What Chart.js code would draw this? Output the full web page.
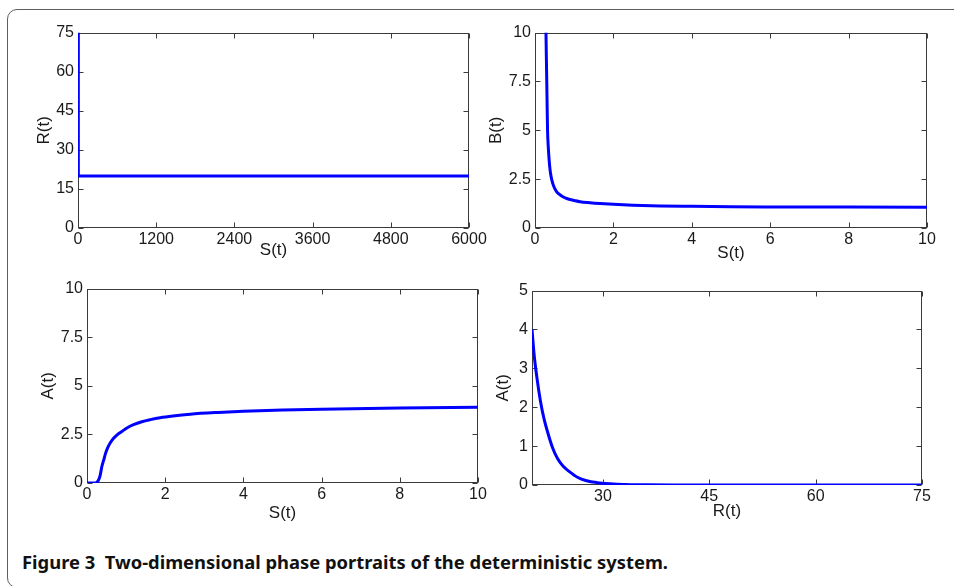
<!DOCTYPE html>
<html>
<head>
<meta charset="utf-8">
<script src="https://cdn.jsdelivr.net/npm/chart.js@4.4.1/dist/chart.umd.min.js"></script>
<style>
  html, body { margin:0; padding:0; background:#fff; width:954px; height:586px; overflow:hidden; position:relative; }
  #frame { position:absolute; left:7px; top:9px; width:1000px; height:579px; box-sizing:border-box;
           border:1.5px solid #5e5e5e; border-radius:10px; }
  .cv { position:absolute; }
  #caption { position:absolute; left:22px; top:551px; font-family:"Noto Sans", sans-serif; font-weight:700;
             font-size:17px; color:#111; white-space:pre; transform-origin:0 0; }
</style>
</head>
<body>
<div id="frame"></div>
<canvas id="c1" class="cv"></canvas>
<canvas id="c2" class="cv"></canvas>
<canvas id="c3" class="cv"></canvas>
<canvas id="c4" class="cv"></canvas>
<div id="caption">Figure 3  Two-dimensional phase portraits of the deterministic system.</div>
<script>
// ---------- data ----------
// Panel 1: R(t) against S(t)
const p1S = [5, 5, 6000];
const p1R = [75, 20, 20];
const p1XTicks = [0, 1200, 2400, 3600, 4800, 6000];
const p1YTicks = [0, 15, 30, 45, 60, 75];

// Panel 2: B(t) against S(t)
const p2S = [0.28, 0.29, 0.30, 0.31, 0.32, 0.34, 0.36, 0.38, 0.40, 0.43, 0.48, 0.55, 0.60, 0.70, 0.81, 1.00, 1.15, 1.40, 1.66, 2.00, 2.50, 3.20, 4, 5, 6, 8, 10];
const p2B = [10, 8.7, 7.5, 6.2, 5.0, 4.1, 3.5, 3.05, 2.75, 2.45, 2.12, 1.86, 1.76, 1.61, 1.51, 1.41, 1.34, 1.29, 1.25, 1.21, 1.17, 1.13, 1.11, 1.09, 1.08, 1.07, 1.06];
const p2XTicks = [0, 2, 4, 6, 8, 10];
const p2YTicks = [0, 2.5, 5, 7.5, 10];

// Panel 3: A(t) against S(t)
const p3S = [0, 0.21, 0.25, 0.30, 0.34, 0.38, 0.43, 0.47, 0.53, 0.60, 0.68, 0.77, 0.89, 1.02, 1.19, 1.40, 1.62, 1.87, 2.20, 2.64, 3.36, 4, 5, 6, 8, 10];
const p3A = [0, 0, 0.03, 0.17, 0.42, 0.85, 1.2, 1.5, 1.82, 2.08, 2.3, 2.48, 2.65, 2.83, 3.0, 3.15, 3.26, 3.36, 3.45, 3.54, 3.63, 3.69, 3.75, 3.80, 3.86, 3.90];
const p3XTicks = [0, 2, 4, 6, 8, 10];
const p3YTicks = [0, 2.5, 5, 7.5, 10];

// Panel 4: A(t) against R(t)
const p4R = [20, 20.3, 20.7, 21.2, 21.7, 22.3, 22.9, 23.6, 24.4, 25.3, 26.4, 27.7, 29.2, 31, 33, 36, 40, 75];
const p4A = [4.0, 3.35, 2.75, 2.15, 1.7, 1.3, 0.96, 0.68, 0.48, 0.34, 0.2, 0.11, 0.06, 0.03, 0.012, 0.004, 0, 0];
const p4XTicks = [30, 45, 60, 75];
const p4YTicks = [0, 1, 2, 3, 4, 5];

// ---------- layout ----------
const YW = 60, XH = 45, PT = 12, PR = 24;
const AXIS_COLOR = '#3a3a3a';
const TICK_FONT = { family: '"Liberation Sans", Arial, sans-serif', size: 16 };
const TITLE_FONT = { family: '"Liberation Sans", Arial, sans-serif', size: 17 };

const boxPlugin = {
  id: 'matlabBox',
  beforeDatasetsDraw(chart) {
    const { ctx, chartArea: a, scales } = chart;
    ctx.save();
    ctx.strokeStyle = AXIS_COLOR;
    ctx.lineWidth = 1;
    const L = Math.round(a.left) + 0.5, R = Math.round(a.right) - 0.5;
    const T = Math.round(a.top) + 0.5, B = Math.round(a.bottom) - 0.5;
    const tl = 5;
    ctx.beginPath();
    scales.x.ticks.forEach(t => {
      const px = Math.round(scales.x.getPixelForValue(t.value)) + 0.5;
      ctx.moveTo(px, B); ctx.lineTo(px, B - tl);
      ctx.moveTo(px, T); ctx.lineTo(px, T + tl);
    });
    scales.y.ticks.forEach(t => {
      const py = Math.round(scales.y.getPixelForValue(t.value)) + 0.5;
      ctx.moveTo(L, py); ctx.lineTo(L + tl, py);
      ctx.moveTo(R, py); ctx.lineTo(R - tl, py);
    });
    ctx.stroke();
    ctx.strokeRect(L, T, R - L, B - T);
    ctx.restore();
  }
};

function makePanel(id, area, xs, ys, xTicks, yTicks, xMin, xMax, yMin, yMax, xTitle, yTitle, yTitlePad, xTitlePad) {
  const cv = document.getElementById(id);
  const w = (area.R - area.L) + YW + PR;
  const h = (area.B - area.T) + PT + XH;
  cv.style.left = (area.L - YW) + 'px';
  cv.style.top = (area.T - PT) + 'px';
  cv.style.width = w + 'px';
  cv.style.height = h + 'px';
  cv.width = w; cv.height = h;
  const pts = xs.map((x, i) => ({ x: x, y: ys[i] }));
  return new Chart(cv, {
    type: 'scatter',
    data: { datasets: [{ data: pts, showLine: true, borderColor: '#0000ff', borderWidth: 3,
                         pointRadius: 0, cubicInterpolationMode: 'monotone', fill: false }] },
    options: {
      responsive: false, animation: false, devicePixelRatio: 1,
      layout: { padding: { left: 0, top: PT, right: PR, bottom: 0 } },
      plugins: { legend: { display: false }, tooltip: { enabled: false } },
      scales: {
        x: {
          type: 'linear', position: 'bottom', min: xMin, max: xMax,
          grid: { display: false, drawTicks: false },
          border: { display: false },
          ticks: { font: TICK_FONT, color: '#1a1a1a', padding: 2, maxRotation: 0, autoSkip: false,
                   callback: v => String(v) },
          afterBuildTicks: s => { s.ticks = xTicks.map(v => ({ value: v })); },
          afterFit: s => { s.height = XH; },
          title: { display: true, text: xTitle, font: TITLE_FONT, color: '#1a1a1a',
                   padding: { top: 0, bottom: xTitlePad } }
        },
        y: {
          type: 'linear', position: 'left', min: yMin, max: yMax,
          grid: { display: false, drawTicks: false },
          border: { display: false },
          ticks: { font: TICK_FONT, color: '#1a1a1a', padding: 4, autoSkip: false,
                   callback: v => String(v) },
          afterBuildTicks: s => { s.ticks = yTicks.map(v => ({ value: v })); },
          afterFit: s => { s.width = YW; },
          title: { display: true, text: yTitle, font: TITLE_FONT, color: '#1a1a1a',
                   padding: { top: yTitlePad, bottom: 0 } }
        }
      }
    },
    plugins: [boxPlugin]
  });
}

makePanel('c1', { L: 78, R: 469, T: 31, B: 228 }, p1S, p1R, p1XTicks, p1YTicks, 0, 6000, 0, 75, 'S(t)', 'R(t)', 16.5, 12);
makePanel('c2', { L: 535, R: 927, T: 31, B: 228 }, p2S, p2B, p2XTicks, p2YTicks, 0, 10, 0, 10, 'S(t)', 'B(t)', 11.5, 9);
makePanel('c3', { L: 87, R: 478, T: 287, B: 483 }, p3S, p3A, p3XTicks, p3YTicks, 0, 10, 0, 10, 'S(t)', 'A(t)', 11.5, 4);
makePanel('c4', { L: 532, R: 922, T: 289, B: 485 }, p4R, p4A, p4XTicks, p4YTicks, 20, 75, 0, 5, 'R(t)', 'A(t)', 21.5, 8);

// fit caption width to reference
const cap = document.getElementById('caption');
const cw = cap.getBoundingClientRect().width;
cap.style.transform = 'scaleX(' + (646 / cw) + ')';
</script>
</body>
</html>
